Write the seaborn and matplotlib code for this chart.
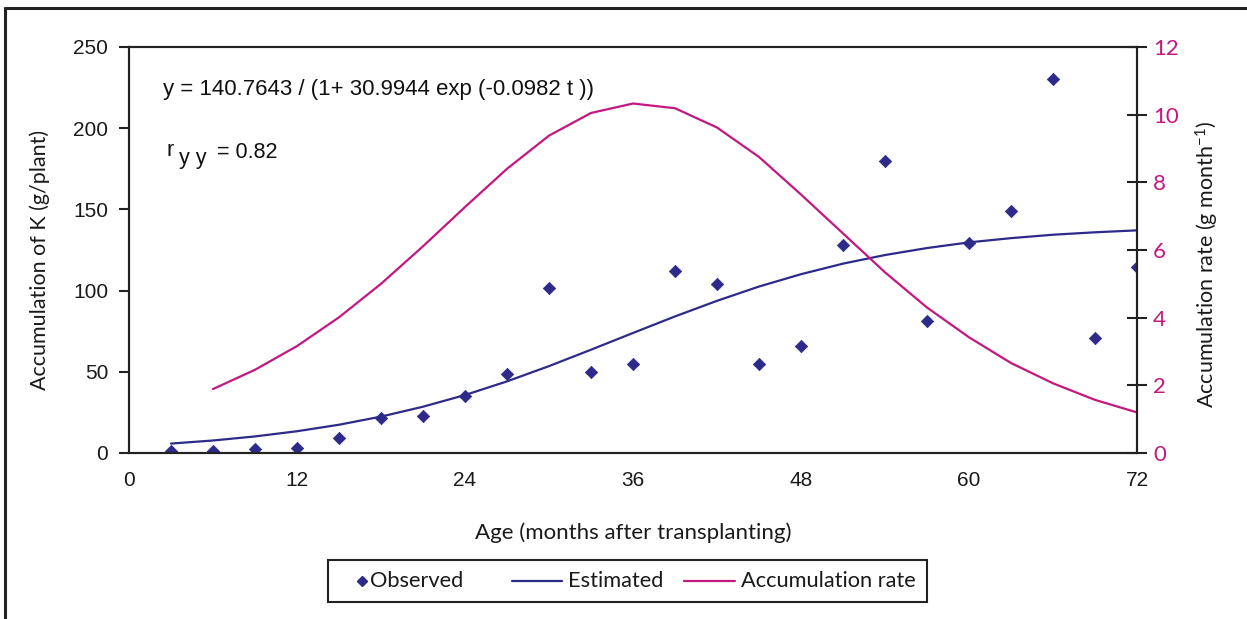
import matplotlib
matplotlib.use("Agg")
import matplotlib.pyplot as plt
from matplotlib.lines import Line2D
from matplotlib.patches import Rectangle
import pandas as pd
import seaborn as sns

# Age (months after transplanting)
months = [3, 6, 9, 12, 15, 18, 21, 24, 27, 30, 33, 36,
          39, 42, 45, 48, 51, 54, 57, 60, 63, 66, 69, 72]

# Observed K accumulation (g/plant)
observed = [1.0, 1.0, 2.5, 3.1, 9.2, 21.5, 22.8, 35.1, 48.6, 101.6, 49.9, 54.8,
            112.0, 104.0, 54.8, 65.9, 128.3, 179.8, 81.3, 129.3, 149.0, 230.3, 70.8, 114.5]

# Logistic estimate (g/plant)
estimated = [5.8, 7.7, 10.2, 13.4, 17.4, 22.4, 28.5, 35.7, 44.1, 53.5, 63.6, 73.9,
             84.1, 93.7, 102.5, 110.1, 116.6, 121.9, 126.2, 129.7, 132.3, 134.4, 135.9, 137.1]

# Accumulation rate (g month^-1), from month 6 onward
rate_months = months[1:]
rate = [1.89, 2.46, 3.16, 4.01, 5.00, 6.11, 7.27, 8.40, 9.38, 10.05, 10.33,
        10.19, 9.62, 8.75, 7.64, 6.49, 5.34, 4.30, 3.42, 2.66, 2.06, 1.57, 1.20]

x_ticks = [0, 12, 24, 36, 48, 60, 72]
y_ticks = [0, 50, 100, 150, 200, 250]
rate_ticks = [0, 2, 4, 6, 8, 10, 12]

legend_labels = ["Observed", "Estimated", "Accumulation rate"]

NAVY = "#2d2a8a"
MAGENTA = "#c4177f"
INK = "#222222"
TEXT = "#1a1a1a"

sns.set_theme(style="white")
plt.rcParams["font.family"] = ["Liberation Sans", "DejaVu Sans"]
plt.rcParams["mathtext.fontset"] = "custom"
plt.rcParams["mathtext.rm"] = "Lato"
plt.rcParams["mathtext.it"] = "Lato:italic"

W, H = 1247, 619
fig = plt.figure(figsize=(W / 100, H / 100), dpi=100)
fig.patch.set_facecolor("white")


def fx(px):
    return px / W


def fy(py):
    return 1 - py / H


ax = fig.add_axes([fx(129), fy(453), fx(1137) - fx(129), fy(47) - fy(453)])
ax2 = ax.twinx()

df_obs = pd.DataFrame({"month": months, "K": observed})
df_est = pd.DataFrame({"month": months, "K": estimated})
df_rate = pd.DataFrame({"month": rate_months, "rate": rate})

sns.lineplot(data=df_est, x="month", y="K", ax=ax, color=NAVY, linewidth=1.6, zorder=3)
sns.scatterplot(data=df_obs, x="month", y="K", ax=ax, marker="D", s=40,
                color=NAVY, edgecolor=NAVY, linewidth=0.5, zorder=4)
sns.lineplot(data=df_rate, x="month", y="rate", ax=ax2, color=MAGENTA, linewidth=1.6)

ax.set_xlim(0, 72)
ax.set_ylim(0, 250)
ax2.set_ylim(0, 12)
ax.set_xticks(x_ticks)
ax.set_yticks(y_ticks)
ax2.set_yticks(rate_ticks)

ax.tick_params(axis="both", direction="out", length=7, width=1.5, color=INK,
               labelsize=15, labelcolor=TEXT, pad=6)
ax.tick_params(axis="y", pad=8)
ax2.tick_params(axis="y", direction="inout", length=15, width=1.5, color=INK,
                labelsize=16, labelcolor=MAGENTA, pad=4)
for lab in ax2.get_yticklabels():
    lab.set_family(["Lato", "DejaVu Sans"])

for a in (ax, ax2):
    for side in ("left", "right", "top", "bottom"):
        a.spines[side].set_visible(True)
        a.spines[side].set_color(INK)
        a.spines[side].set_linewidth(1.5)
    a.grid(False)
    a.set_facecolor("none")

label_font = ["Lato", "DejaVu Sans"]
ax.set_xlabel("Age (months after transplanting)", fontsize=16, family=label_font,
              color=TEXT, labelpad=23)
ax.set_ylabel("Accumulation of K (g/plant)", fontsize=15.5, family=label_font,
              color=TEXT)
ax2.set_ylabel("Accumulation rate (g month$^{-1}$)", fontsize=15.5, family=label_font,
               color=TEXT)
ax.yaxis.set_label_coords((40 - 129) / 1008, (453 - 260) / 406)
ax.yaxis.label.set_verticalalignment("center")
ax2.yaxis.set_label_coords((1207 - 129) / 1008, (453 - 264) / 406)
ax2.yaxis.label.set_verticalalignment("center")

# Fitted equation and correlation
fig.text(fx(163), fy(90), "y = 140.7643 / (1+ 30.9944 exp (-0.0982 t ))",
         fontsize=16, va="center", ha="left", color="#111111")
fig.text(fx(166), fy(150), "r", fontsize=15.5, va="center", ha="left", color="#111111")
fig.text(fx(179), fy(159), "y y", fontsize=15.5, va="center", ha="left", color="#111111")
fig.text(fx(217), fy(153), "= 0.82", fontsize=15.5, va="center", ha="left", color="#111111")

# Legend box below the axes
fig.add_artist(Rectangle((fx(328), fy(602)), fx(927) - fx(328), fy(560) - fy(602),
                         transform=fig.transFigure, facecolor="white",
                         edgecolor=INK, linewidth=1.5))
ly = fy(581)
fig.add_artist(Line2D([fx(362)], [ly], linestyle="none", marker="D", markersize=5,
                      color=NAVY, transform=fig.transFigure))
fig.add_artist(Line2D([fx(512), fx(562)], [ly, ly], color=NAVY, linewidth=1.6,
                      transform=fig.transFigure))
fig.add_artist(Line2D([fx(684), fx(735)], [ly, ly], color=MAGENTA, linewidth=1.6,
                      transform=fig.transFigure))
for xpos, label in zip([370, 568, 741], legend_labels):
    fig.text(fx(xpos), ly, label, fontsize=15.7, family=label_font, color=TEXT,
             va="center", ha="left")

# Outer frame (left and top edges)
fig.add_artist(Line2D([fx(5), fx(5)], [0, fy(8)], color=INK, linewidth=2.2,
                      transform=fig.transFigure))
fig.add_artist(Line2D([fx(5), 1], [fy(8), fy(8)], color=INK, linewidth=2.2,
                      transform=fig.transFigure))

fig.savefig("out.png", dpi=100)
